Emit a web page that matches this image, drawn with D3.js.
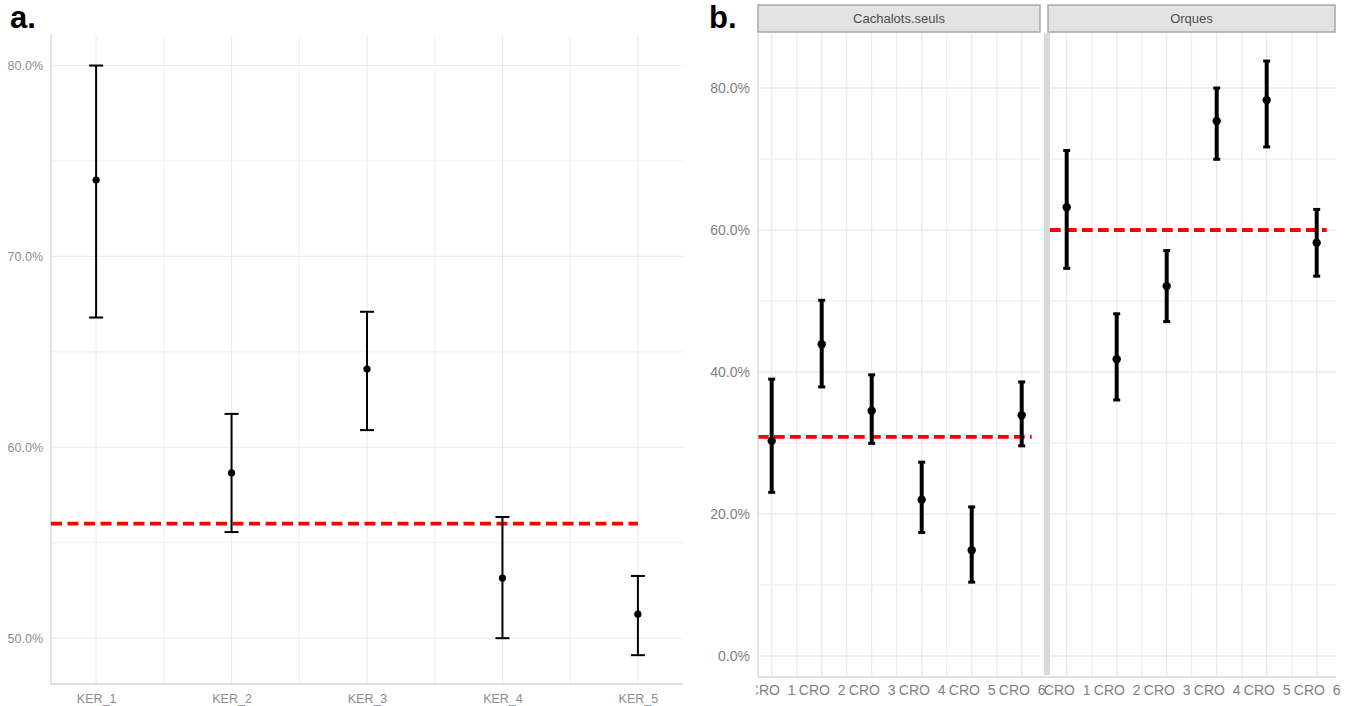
<!DOCTYPE html>
<html><head><meta charset="utf-8">
<script src="https://cdn.jsdelivr.net/npm/d3@7"></script>
<style>
html,body{margin:0;padding:0;background:#fff;}
svg{display:block;font-family:"Liberation Sans",Arial,sans-serif;}
</style></head>
<body>
<svg id="chart" width="1354" height="706"></svg>
<script>
// ---------- Panel a data ----------
const catsA = ["KER_1","KER_2","KER_3","KER_4","KER_5"];
const meanA = [0.740, 0.5866, 0.641, 0.5315, 0.5126];
const lowA  = [0.668, 0.5556, 0.609, 0.500, 0.4911];
const highA = [0.800, 0.6175, 0.671, 0.5635, 0.5326];
const refA = 0.560;
const ticksA = [0.5, 0.6, 0.7, 0.8];
const minorA = [0.55, 0.65, 0.75];

// ---------- Panel b data ----------
const catsB = ["CRO 1","CRO 2","CRO 3","CRO 4","CRO 5","CRO 6"];
const facets = ["Cachalots.seuls","Orques"];
const meanCach = [0.303, 0.439, 0.3455, 0.220, 0.149, 0.339];
const lowCach  = [0.2305, 0.379, 0.2995, 0.174, 0.104, 0.296];
const highCach = [0.390, 0.501, 0.396, 0.273, 0.210, 0.386];
const meanOrq  = [0.632, 0.418, 0.521, 0.7535, 0.783, 0.582];
const lowOrq   = [0.546, 0.3606, 0.471, 0.6996, 0.717, 0.535];
const highOrq  = [0.712, 0.482, 0.571, 0.800, 0.838, 0.629];
const refB = [0.3085, 0.600];
const ticksB = [0, 0.2, 0.4, 0.6, 0.8];
const minorB = [0.1, 0.3, 0.5, 0.7];

const svg = d3.select("#chart");
const fmt = d3.format(".1%");
const gridCol = "#ebebeb";
const axisCol = "#d6d6d6";

// ================= Panel a =================
const A = {l:51, r:683, t:35, b:684};
const xA = d3.scalePoint().domain(catsA).range([A.l, A.r]).padding(0.333);
const yA = d3.scaleLinear().domain([0.476, 0.816]).range([A.b, A.t]);
const gA = svg.append("g");
gA.selectAll(".mnh").data(minorA).join("line")
  .attr("x1",A.l).attr("x2",A.r).attr("y1",d=>yA(d)).attr("y2",d=>yA(d))
  .attr("stroke",gridCol).attr("stroke-width",0.8);
const stepA = xA.step();
gA.selectAll(".mnv").data(catsA.slice(0,-1)).join("line")
  .attr("x1",d=>xA(d)+stepA/2).attr("x2",d=>xA(d)+stepA/2).attr("y1",A.t).attr("y2",A.b)
  .attr("stroke",gridCol).attr("stroke-width",0.8);
gA.selectAll(".mjh").data(ticksA).join("line")
  .attr("x1",A.l).attr("x2",A.r).attr("y1",d=>yA(d)).attr("y2",d=>yA(d))
  .attr("stroke",gridCol).attr("stroke-width",1.1);
gA.selectAll(".mjv").data(catsA).join("line")
  .attr("x1",d=>xA(d)).attr("x2",d=>xA(d)).attr("y1",A.t).attr("y2",A.b)
  .attr("stroke",gridCol).attr("stroke-width",1.1);
const axLA = d3.axisLeft(yA).tickValues(ticksA).tickFormat(fmt).tickSize(0).tickPadding(8);
const gyA = gA.append("g").attr("transform",`translate(${A.l},0)`).call(axLA);
gyA.select(".domain").remove();
gyA.selectAll("text").attr("fill","#8a8d94").attr("font-size",12.5).attr("font-family","Liberation Sans, Arial, sans-serif");
const axBA = d3.axisBottom(xA).tickSize(0).tickPadding(10);
const gxA = gA.append("g").attr("transform",`translate(0,${A.b})`).call(axBA);
gxA.select(".domain").remove();
gxA.selectAll("text").attr("fill","#8a8d94").attr("font-size",12.5).attr("font-family","Liberation Sans, Arial, sans-serif");
gA.append("line").attr("x1",A.l).attr("x2",A.l).attr("y1",A.t).attr("y2",A.b).attr("stroke",axisCol).attr("stroke-width",1.3);
gA.append("line").attr("x1",A.l).attr("x2",A.r).attr("y1",A.b).attr("y2",A.b).attr("stroke",axisCol).attr("stroke-width",1.3);
gA.append("line").attr("x1",A.l).attr("x2",xA(catsA[catsA.length-1]))
  .attr("y1",yA(refA)).attr("y2",yA(refA))
  .attr("stroke","#ff0000").attr("stroke-width",3.6).attr("stroke-dasharray","11 5.5");
const capA = 7;
catsA.forEach((c,i)=>{
  const x = xA(c);
  gA.append("line").attr("x1",x).attr("x2",x).attr("y1",yA(lowA[i])).attr("y2",yA(highA[i])).attr("stroke","#000").attr("stroke-width",2);
  [lowA[i],highA[i]].forEach(v=>gA.append("line").attr("x1",x-capA).attr("x2",x+capA).attr("y1",yA(v)).attr("y2",yA(v)).attr("stroke","#000").attr("stroke-width",2));
  gA.append("circle").attr("cx",x).attr("cy",yA(meanA[i])).attr("r",3.6).attr("fill","#000");
});
svg.append("text").attr("x",10).attr("y",28).attr("font-size",31).attr("font-weight","bold").attr("fill","#000").text("a.");

// ================= Panel b =================
const B = {t:33, b:677};
const yB = d3.scaleLinear().domain([-0.0296, 0.8775]).range([B.b, B.t]);
const panels = [
  {name:facets[0], range:[751.7,1041.7], left:758, right:1040, mean:meanCach, low:lowCach, high:highCach, ref:refB[0], strip:[758,1040]},
  {name:facets[1], range:[1046.7,1336.7], left:1050, right:1336, mean:meanOrq, low:lowOrq, high:highOrq, ref:refB[1], strip:[1048,1335]}
];
svg.append("defs").append("clipPath").attr("id","clipB").append("rect")
  .attr("x",756).attr("y",0).attr("width",600).attr("height",706);
const gB = svg.append("g").attr("clip-path","url(#clipB)");
panels.forEach((p,pi)=>{
  const x = d3.scalePoint().domain(catsB).range(p.range).padding(0.4);
  const st = x.step();
  const g = gB.append("g");
  g.selectAll(".mnh").data(minorB).join("line")
    .attr("x1",p.left).attr("x2",p.right).attr("y1",d=>yB(d)).attr("y2",d=>yB(d))
    .attr("stroke",gridCol).attr("stroke-width",1.1);
  g.selectAll(".mnv").data(catsB.slice(0,-1)).join("line")
    .attr("x1",d=>x(d)+st/2).attr("x2",d=>x(d)+st/2).attr("y1",B.t).attr("y2",B.b)
    .attr("stroke",gridCol).attr("stroke-width",1.1);
  g.selectAll(".mjh").data(ticksB).join("line")
    .attr("x1",p.left).attr("x2",p.right).attr("y1",d=>yB(d)).attr("y2",d=>yB(d))
    .attr("stroke",gridCol).attr("stroke-width",1.4);
  g.selectAll(".mjv").data(catsB).join("line")
    .attr("x1",d=>x(d)).attr("x2",d=>x(d)).attr("y1",B.t).attr("y2",B.b)
    .attr("stroke",gridCol).attr("stroke-width",1.4);
  const ax = d3.axisBottom(x).tickSize(0).tickPadding(8);
  const gx = g.append("g").attr("transform",`translate(0,${B.b})`).call(ax);
  gx.select(".domain").remove();
  gx.selectAll("text").attr("fill","#7f7f7f").attr("font-size",14).attr("font-family","Liberation Sans, Arial, sans-serif")
    .attr("word-spacing","4px");
  g.append("line").attr("x1",p.left).attr("x2",x(catsB[catsB.length-1])+0.2*st)
    .attr("y1",yB(p.ref)).attr("y2",yB(p.ref))
    .attr("stroke","#ff0000").attr("stroke-width",3.8).attr("stroke-dasharray","10.7 5.3");
  catsB.forEach((c,i)=>{
    const cx = x(c);
    g.append("line").attr("x1",cx).attr("x2",cx).attr("y1",yB(p.low[i])).attr("y2",yB(p.high[i])).attr("stroke","#000").attr("stroke-width",4);
    [p.low[i],p.high[i]].forEach(v=>g.append("line").attr("x1",cx-3.5).attr("x2",cx+3.5).attr("y1",yB(v)).attr("y2",yB(v)).attr("stroke","#000").attr("stroke-width",3));
    g.append("circle").attr("cx",cx).attr("cy",yB(p.mean[i])).attr("r",4.2).attr("fill","#000");
  });
  svg.append("rect").attr("x",p.strip[0]).attr("y",5).attr("width",p.strip[1]-p.strip[0]).attr("height",27)
    .attr("fill","#e3e3e3").attr("stroke","#a9a9a9").attr("stroke-width",1.5);
  svg.append("text").attr("x",(p.strip[0]+p.strip[1])/2).attr("y",18.5).attr("dy","0.35em")
    .attr("text-anchor","middle").attr("font-size",13).attr("fill","#4d4d4d").text(p.name);
});
svg.append("line").attr("x1",758).attr("x2",758).attr("y1",B.t).attr("y2",B.b).attr("stroke",axisCol).attr("stroke-width",1.3);
svg.append("line").attr("x1",758).attr("x2",1336).attr("y1",B.b).attr("y2",B.b).attr("stroke",axisCol).attr("stroke-width",1.3);
svg.append("rect").attr("x",1044).attr("y",B.t).attr("width",6).attr("height",642).attr("fill","#dadada");
const ayB = d3.axisLeft(yB).tickValues(ticksB).tickFormat(fmt).tickSize(0).tickPadding(8);
const gyB = svg.append("g").attr("transform",`translate(758,0)`).call(ayB);
gyB.select(".domain").remove();
gyB.selectAll("text").attr("fill","#7f7f7f").attr("font-size",14).attr("font-family","Liberation Sans, Arial, sans-serif");
svg.append("text").attr("x",709).attr("y",28).attr("font-size",31).attr("font-weight","bold").attr("fill","#000").text("b.");
</script>
</body></html>
